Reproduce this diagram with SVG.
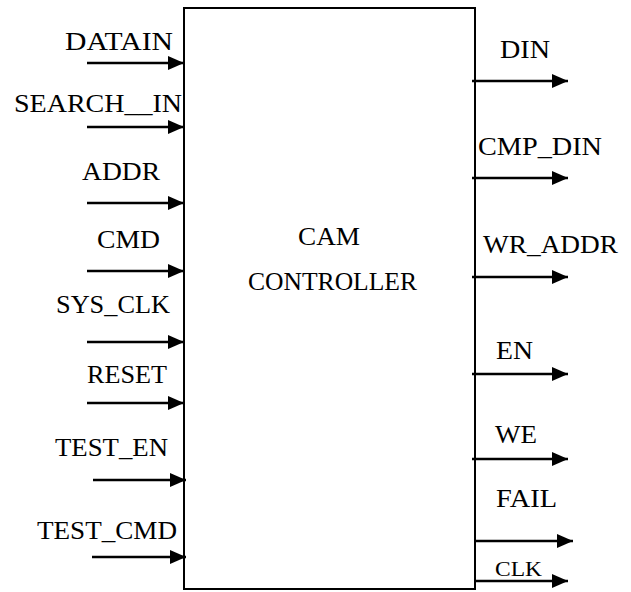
<svg xmlns="http://www.w3.org/2000/svg" width="631" height="592" viewBox="0 0 631 592">
  <defs>
    <marker id="head" viewBox="0 0 16 14" refX="16" refY="7" markerWidth="16" markerHeight="14" markerUnits="userSpaceOnUse" orient="auto">
      <path d="M0,0 L16,7 L0,14 Z" fill="#000"/>
    </marker>
    <style>
      .lbl { font-family: "Times New Roman", Times, "Liberation Serif", "DejaVu Serif", serif; font-size: 25px; fill: #000; }
      .wire { stroke: #000; stroke-width: 2.6; fill: none; marker-end: url(#head); }
      .box { fill: #fff; stroke: #000; stroke-width: 2; }
    </style>
  </defs>

  <rect width="631" height="592" fill="#fff"/>

  <g id="cam-controller" class="lbl">
    <rect class="box" x="184" y="8" width="291" height="581"/>
    <text x="298" y="245" textLength="62" lengthAdjust="spacingAndGlyphs">CAM</text>
    <text x="248" y="290" textLength="169" lengthAdjust="spacingAndGlyphs">CONTROLLER</text>
  </g>

  <g id="connectors">
    <!-- inputs -->
    <line class="wire" x1="87" y1="63" x2="184" y2="63"/>
    <line class="wire" x1="87" y1="127" x2="184" y2="127"/>
    <line class="wire" x1="87" y1="203" x2="184" y2="203"/>
    <line class="wire" x1="87" y1="271" x2="184" y2="271"/>
    <line class="wire" x1="87" y1="342" x2="184" y2="342"/>
    <line class="wire" x1="87" y1="403" x2="184" y2="403"/>
    <line class="wire" x1="93" y1="480" x2="186" y2="480"/>
    <line class="wire" x1="92" y1="557" x2="186" y2="557"/>
    <!-- outputs -->
    <line class="wire" x1="472" y1="81" x2="568" y2="81"/>
    <line class="wire" x1="472" y1="178" x2="568" y2="178"/>
    <line class="wire" x1="472" y1="277" x2="568" y2="277"/>
    <line class="wire" x1="472" y1="374" x2="568" y2="374"/>
    <line class="wire" x1="472" y1="459" x2="568" y2="459"/>
    <line class="wire" x1="475" y1="541" x2="573" y2="541"/>
    <line class="wire" x1="475" y1="581" x2="568" y2="581"/>
  </g>

  <g class="lbl">
    <g id="in-datain"><text x="65" y="50" textLength="108" lengthAdjust="spacingAndGlyphs">DATAIN</text></g>
    <g id="in-search-in"><text x="14" y="112" textLength="168" lengthAdjust="spacingAndGlyphs">SEARCH__IN</text></g>
    <g id="in-addr"><text x="82" y="180" textLength="78" lengthAdjust="spacingAndGlyphs">ADDR</text></g>
    <g id="in-cmd"><text x="97" y="248" textLength="63" lengthAdjust="spacingAndGlyphs">CMD</text></g>
    <g id="in-sys-clk"><text x="56" y="313" textLength="114" lengthAdjust="spacingAndGlyphs">SYS_CLK</text></g>
    <g id="in-reset"><text x="87" y="383" textLength="80" lengthAdjust="spacingAndGlyphs">RESET</text></g>
    <g id="in-test-en"><text x="55" y="456" textLength="113" lengthAdjust="spacingAndGlyphs">TEST_EN</text></g>
    <g id="in-test-cmd"><text x="37" y="539" textLength="140" lengthAdjust="spacingAndGlyphs">TEST_CMD</text></g>

    <g id="out-din"><text x="500" y="58" textLength="50" lengthAdjust="spacingAndGlyphs">DIN</text></g>
    <g id="out-cmp-din"><text x="478" y="155" textLength="124" lengthAdjust="spacingAndGlyphs">CMP_DIN</text></g>
    <g id="out-wr-addr"><text x="483" y="253" textLength="135" lengthAdjust="spacingAndGlyphs">WR_ADDR</text></g>
    <g id="out-en"><text x="496" y="359" textLength="37" lengthAdjust="spacingAndGlyphs">EN</text></g>
    <g id="out-we"><text x="495" y="443" textLength="42" lengthAdjust="spacingAndGlyphs">WE</text></g>
    <g id="out-fail"><text x="496" y="507" textLength="61" lengthAdjust="spacingAndGlyphs">FAIL</text></g>
    <g id="out-clk"><text x="495" y="576" font-size="21" style="font-size:21px" textLength="47" lengthAdjust="spacingAndGlyphs">CLK</text></g>
  </g>
</svg>
